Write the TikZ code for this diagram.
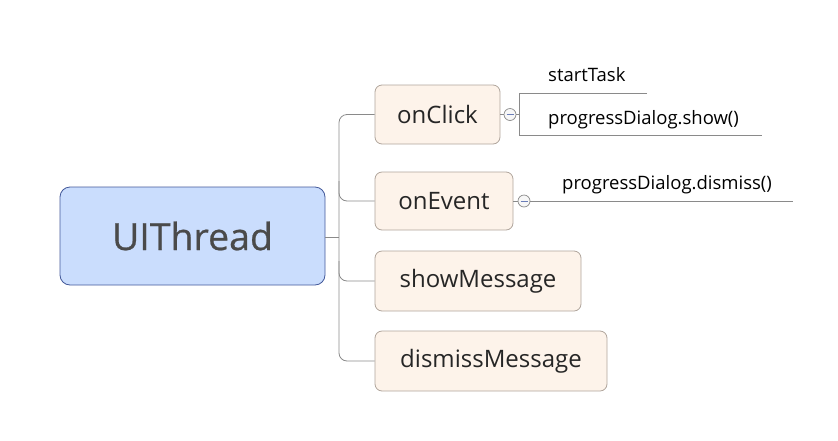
\documentclass[tikz,border=0pt]{standalone}
\usepackage{fontspec}
\setmainfont{Open Sans}
\newfontfamily\rootfont[FakeBold=0.6]{Open Sans}
\usetikzlibrary{calc}
\definecolor{rootfill}{HTML}{CADDFD}
\definecolor{rootline}{HTML}{43599A}
\definecolor{roottext}{HTML}{4A4A4A}
\definecolor{kidfill}{HTML}{FDF3EA}
\definecolor{kidline}{HTML}{B0A59C}
\definecolor{kidtext}{HTML}{262626}
\definecolor{linkgray}{HTML}{8A8A8A}
\definecolor{minusblue}{HTML}{6A7DB8}
\begin{document}
\begin{tikzpicture}[x=1pt,y=-1pt,
  rootbox/.style={draw=rootline,fill=rootfill,rounded corners=10pt,line width=0.8pt,
    text=roottext,font=\rootfont\fontsize{37.5}{40}\selectfont,inner sep=0pt},
  kidbox/.style={draw=kidline,fill=kidfill,rounded corners=7pt,line width=0.8pt,
    text=kidtext,font=\fontsize{24}{28}\selectfont,inner sep=0pt},
  leaf/.style={anchor=base west,inner sep=0pt,text=black,font=\fontsize{18.5}{22}\selectfont},
  link/.style={draw=linkgray,line width=0.8pt},
  foldc/.style={circle,draw=linkgray,fill=gray!6,line width=0.7pt,minimum size=12pt,inner sep=0pt}
]
\useasboundingbox (0,0) rectangle (838,440);
\node[rootbox,minimum width=265pt,minimum height=98pt] (root) at (192.5,236) {UIThread};
\node[kidbox,minimum width=125pt,minimum height=59pt] (c1) at (437.5,114.5) {onClick};
\node[kidbox,minimum width=138pt,minimum height=58pt] (c2) at (444,201) {onEvent};
\node[kidbox,minimum width=206pt,minimum height=60pt] (c3) at (478,281) {showMessage};
\node[kidbox,minimum width=232pt,minimum height=60pt] (c4) at (491,361) {dismissMessage};
\coordinate (tr) at (339,237);
\draw[link] (root.east |- tr) -- (tr);
\draw[link,rounded corners=8pt] (c1.west) -- (tr |- c1.west) -- (tr |- c4.west) -- (c4.west);
\draw[link,rounded corners=8pt] ($(tr |- c2.west)+(0,-20)$) -- (tr |- c2.west) -- (c2.west);
\draw[link,rounded corners=8pt] ($(tr |- c3.west)+(0,-20)$) -- (tr |- c3.west) -- (c3.west);
% fold circles
\node[foldc] (f1) at (510,114.5) {};
\node[foldc] (f2) at (524,201) {};
\draw[minusblue,line width=0.8pt] ($(f1.center)+(-3.5,0)$) -- ($(f1.center)+(3.5,0)$);
\draw[minusblue,line width=0.8pt] ($(f2.center)+(-3.5,0)$) -- ($(f2.center)+(3.5,0)$);
\draw[link] (c1.east) -- (f1.west);
\draw[link] (c2.east) -- (f2.west);
% leaves of onClick
\coordinate (b1) at (519,114.5);
\coordinate (e1) at (647,93);
\coordinate (e2) at (762,135);
\draw[link] (f1.east) -- (b1);
\draw[link] (e1) -- (b1 |- e1) -- (b1 |- e2) -- (e2);
\node[leaf] (l1) at (548,81) {startTask};
\node[leaf] (l2) at (548,124) {progressDialog.show()};
% leaf of onEvent
\coordinate (e3) at (793,201);
\draw[link] (f2.east) -- (e3);
\node[leaf] (l3) at (562,189) {progressDialog.dismiss()};
\end{tikzpicture}
\end{document}
